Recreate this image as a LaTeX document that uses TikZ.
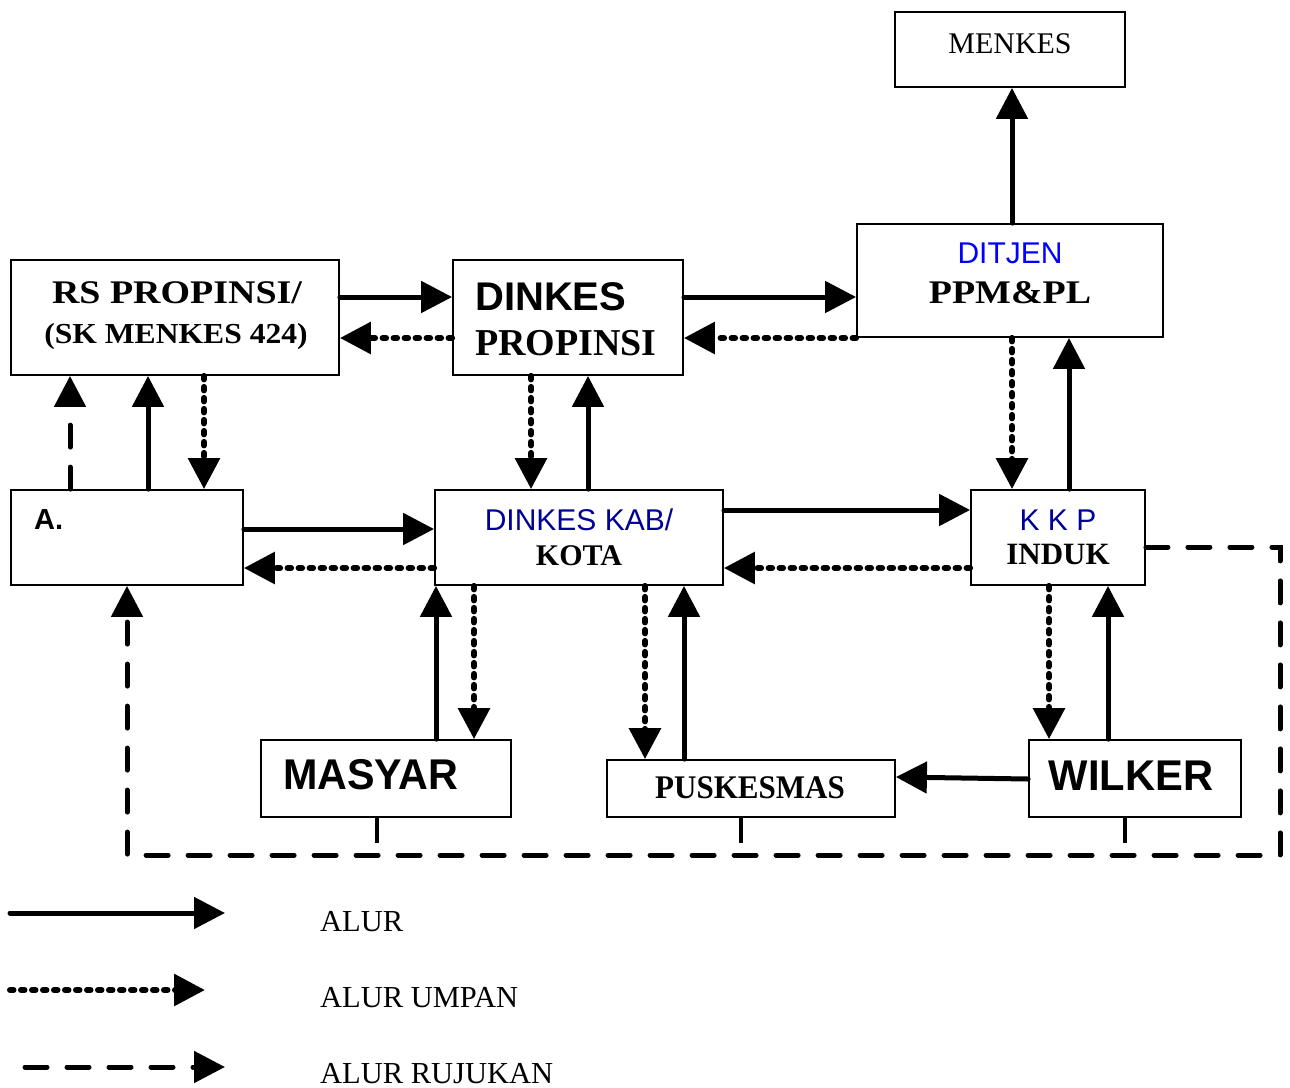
\documentclass[tikz,border=0pt]{standalone}
\usepackage{fontspec}
\setmainfont{Liberation Serif}
\newfontfamily\arialf{Liberation Sans}
\usetikzlibrary{arrows.meta}
\definecolor{navyb}{RGB}{0,0,150}
\definecolor{brightb}{RGB}{0,0,255}
\newcommand\setfs[1]{\fontsize{#1pt}{#1pt}\selectfont}
\tikzset{
 box/.style={draw=black, line width=1.8pt, inner sep=0pt, rectangle},
 bigtip/.style={-{Triangle[length=31pt,width=31pt]}},
 alur/.style={bigtip, line width=5pt, line cap=round},
 umpan/.style={bigtip, line width=6pt, line cap=round, dash pattern=on 3.5pt off 7.5pt},
 rujukan/.style={bigtip, line width=5pt, line cap=round, dash pattern=on 22pt off 20pt},
 stub/.style={line width=4pt},
 lbl/.style={inner sep=0pt, anchor=base},
 lblw/.style={inner sep=0pt, anchor=base west},
}
\begin{document}
\begin{tikzpicture}[x=1pt,y=-1pt]
\useasboundingbox (0,0) rectangle (1290,1087);
% boxes
\node[box, minimum width=230pt, minimum height=75pt]  (menkes) at (1010,49.5) {};
\node[box, minimum width=306pt, minimum height=113pt] (ditjen) at (1010,280.5) {};
\node[box, minimum width=328pt, minimum height=115pt] (rs) at (175,317.5) {};
\node[box, minimum width=230pt, minimum height=115pt] (dinkesp) at (568,317.5) {};
\node[box, minimum width=232pt, minimum height=95pt]  (a) at (127,537.5) {};
\node[box, minimum width=288pt, minimum height=95pt]  (dinkeskab) at (579,537.5) {};
\node[box, minimum width=174pt, minimum height=95pt]  (kkp) at (1058,537.5) {};
\node[box, minimum width=250pt, minimum height=77pt]  (masyar) at (386,778.5) {};
\node[box, minimum width=288pt, minimum height=57pt]  (puskesmas) at (751,788.5) {};
\node[box, minimum width=212pt, minimum height=77pt]  (wilker) at (1135,778.5) {};
% texts
\node[lbl] (tmenkes) at (1010,53) {\setfs{30}MENKES};
\node[lbl, text=brightb] (tditjen) at (1010,263) {\arialf\setfs{30}DITJEN};
\node[lbl] (tppm) at (1010,303) {\setfs{33}\bfseries\scalebox{1.15}[1]{PPM\&PL}};
\node[lbl] (trs1) at (177,303) {\setfs{33}\bfseries\scalebox{1.15}[1]{RS PROPINSI/}};
\node[lbl] (trs2) at (176,343) {\setfs{29}\bfseries\scalebox{1.09}[1]{(SK MENKES 424)}};
\node[lblw] (tdk1) at (475,310) {\arialf\setfs{40}\bfseries DINKES};
\node[lblw] (tdk2) at (475,355) {\setfs{38}\bfseries PROPINSI};
\node[lblw] (ta) at (34,529) {\arialf\setfs{29}\bfseries A.};
\node[lbl, text=navyb] (tkab1) at (579,530) {\arialf\setfs{30}DINKES KAB/};
\node[lbl] (tkab2) at (579,565) {\setfs{30}\bfseries KOTA};
\node[lbl, text=navyb] (tkkp1) at (1058,530) {\arialf\setfs{30}K K P};
\node[lbl] (tkkp2) at (1058,564) {\setfs{31}\bfseries INDUK};
\node[lblw] (tmas) at (283,789) {\arialf\setfs{43}\bfseries\scalebox{0.96}[1]{MASYAR}};
\node[lbl] (tpus) at (750,798) {\setfs{33}\bfseries\scalebox{0.94}[1]{PUSKESMAS}};
\node[lbl] (twil) at (1131,790) {\arialf\setfs{43}\bfseries\scalebox{0.97}[1]{WILKER}};
% connectors
\draw[alur] (ditjen.north -| 1012,0) -- (menkes.south -| 1012,0);
\draw[alur] (rs.east |- 0,297) -- (dinkesp.west |- 0,297);
\draw[umpan] (dinkesp.west |- 0,338) -- (rs.east |- 0,338);
\draw[alur] (dinkesp.east |- 0,297) -- (ditjen.west |- 0,297);
\draw[umpan] (ditjen.west |- 0,338) -- (dinkesp.east |- 0,338);
\draw[umpan] (ditjen.south -| 1012,0) -- (kkp.north -| 1012,0);
\draw[alur] (kkp.north -| 1069,0) -- (ditjen.south -| 1069,0);
\draw[umpan] (dinkesp.south -| 531,0) -- (dinkeskab.north -| 531,0);
\draw[alur] (dinkeskab.north -| 588,0) -- (dinkesp.south -| 588,0);
\draw[umpan] (rs.south -| 204,0) -- (a.north -| 204,0);
\draw[alur] (a.north -| 148,0) -- (rs.south -| 148,0);
\draw[rujukan] (a.north -| 70,0) -- (rs.south -| 70,0);
\draw[alur] (a.east |- 0,529) -- (dinkeskab.west |- 0,529);
\draw[umpan] (dinkeskab.west |- 0,568) -- (a.east |- 0,568);
\draw[alur] (dinkeskab.east |- 0,510) -- (kkp.west |- 0,510);
\draw[umpan] (kkp.west |- 0,568) -- (dinkeskab.east |- 0,568);
\draw[umpan] (dinkeskab.south -| 474,0) -- (masyar.north -| 474,0);
\draw[alur] (masyar.north -| 436,0) -- (dinkeskab.south -| 436,0);
\draw[umpan] (dinkeskab.south -| 645,0) -- (puskesmas.north -| 645,0);
\draw[alur] (puskesmas.north -| 684,0) -- (dinkeskab.south -| 684,0);
\draw[umpan] (kkp.south -| 1049,0) -- (wilker.north -| 1049,0);
\draw[alur] (wilker.north -| 1108,0) -- (kkp.south -| 1108,0);
\draw[alur] (wilker.west |- 0,779) -- (puskesmas.east |- 0,777);
% referral loop
\coordinate (c1) at (1280,547);
\coordinate (c2) at (1280,855);
\coordinate (c3) at (127,855);
\draw[rujukan] (kkp.east |- 0,547) -- (c1) -- (c2) -- (c3) -- (a.south -| 127,0);
% stubs
\coordinate (s1) at (377,843);
\coordinate (s2) at (741,843);
\coordinate (s3) at (1125,843);
\draw[stub] (masyar.south -| 377,0) -- (s1);
\draw[stub] (puskesmas.south -| 741,0) -- (s2);
\draw[stub] (wilker.south -| 1125,0) -- (s3);
% legend
\coordinate (l1a) at (10,913);
\coordinate (l1b) at (225,913);
\coordinate (l2a) at (10,990);
\coordinate (l2b) at (205,990);
\coordinate (l3a) at (25,1067);
\coordinate (l3b) at (225,1067);
\draw[alur] (l1a) -- (l1b);
\draw[umpan] (l2a) -- (l2b);
\draw[rujukan] (l3a) -- (l3b);
\node[lblw] (leg1) at (320,931) {\setfs{30.5}ALUR};
\node[lblw] (leg2) at (320,1007) {\setfs{30.5}ALUR UMPAN};
\node[lblw] (leg3) at (320,1083) {\setfs{30.5}ALUR RUJUKAN};
\end{tikzpicture}
\end{document}
